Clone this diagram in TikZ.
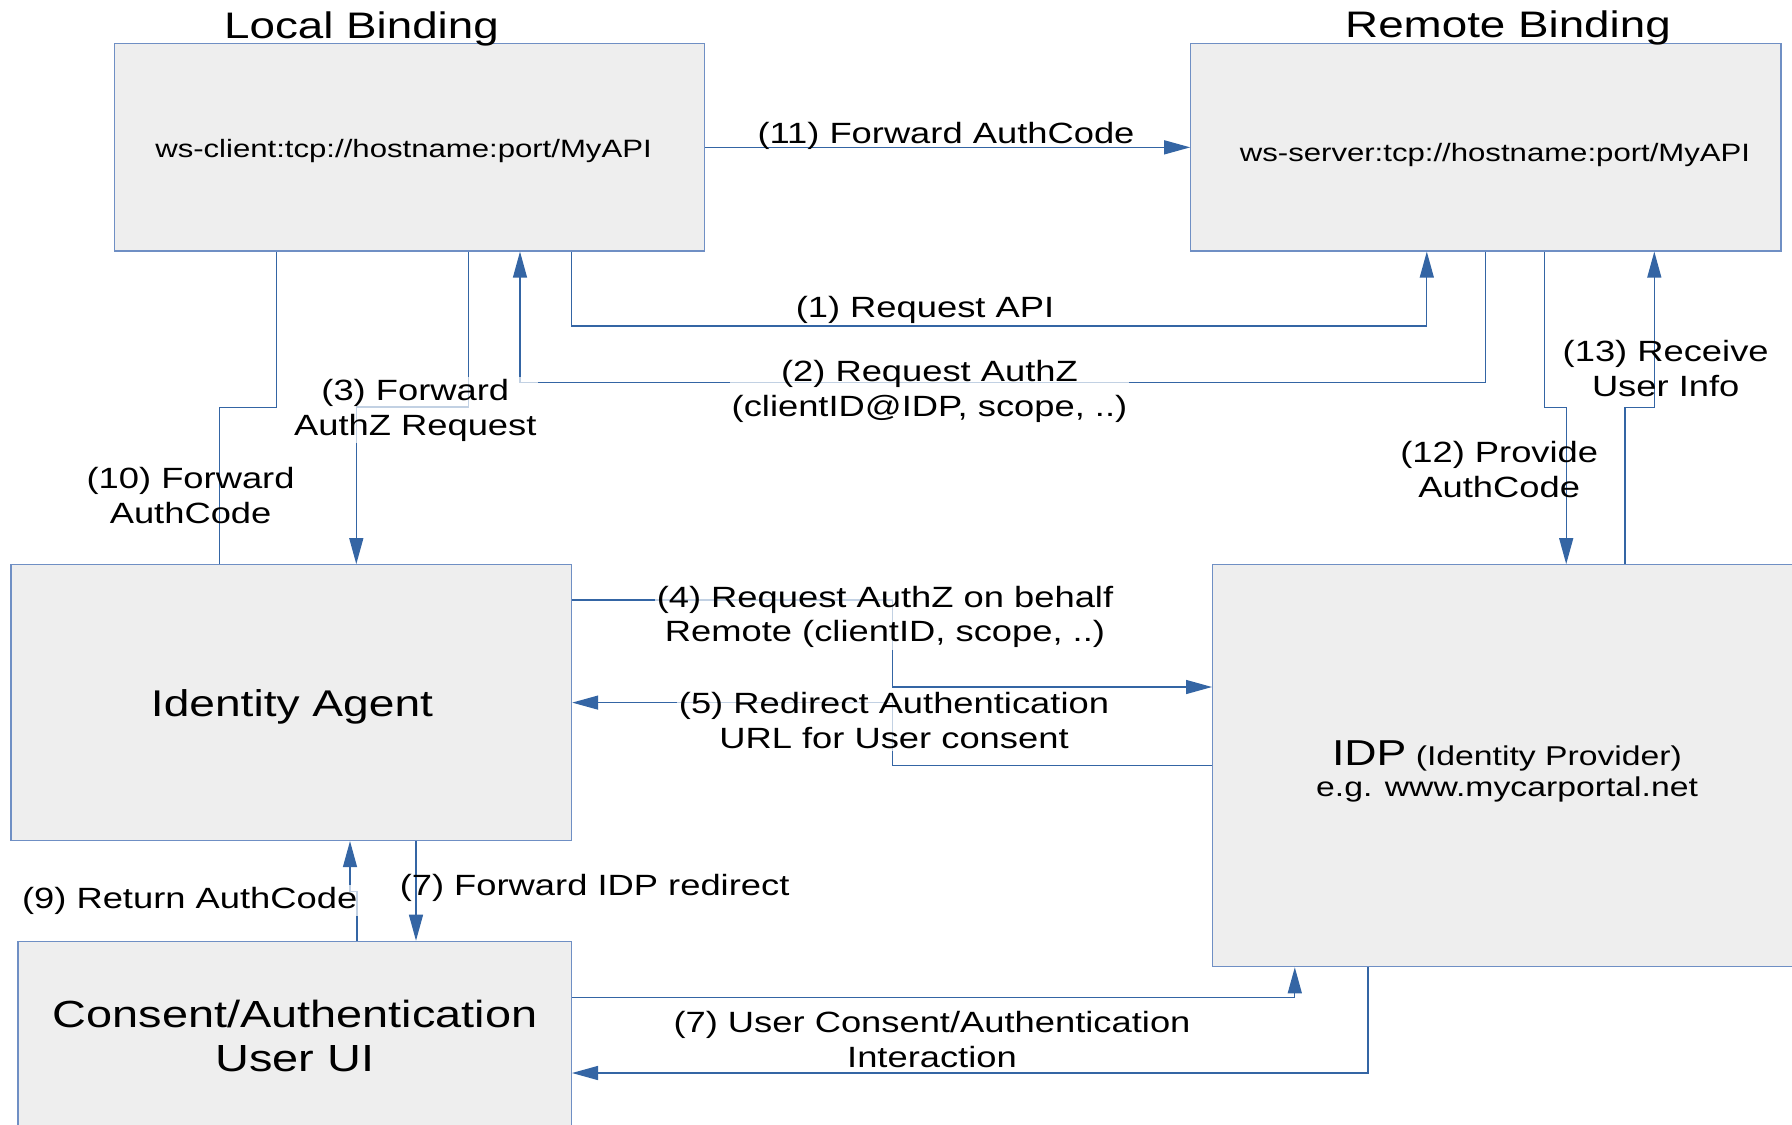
\documentclass[tikz,border=0pt]{standalone}
\usepackage{fontspec}
\setmainfont{Liberation Sans}[FakeStretch=1.24]
\usetikzlibrary{arrows.meta}
\definecolor{lnblue}{HTML}{3465A4}
\definecolor{bxborder}{HTML}{6F8FC4}
\definecolor{bxfill}{HTML}{EEEEEE}
\begin{document}
\begin{tikzpicture}[x=1pt,y=-1pt,
  box/.style={draw=bxborder, fill=bxfill, line width=1.2pt, inner sep=0pt},
  conn/.style={draw=lnblue, line width=1.3pt},
  arr/.style={conn, -{Triangle[length=26pt,width=14pt]}},
  lbl/.style={font=\fontsize{29.3}{34.7}\selectfont, align=center, anchor=base, inner sep=0pt},
  lblf/.style={lbl, fill=white, fill opacity=0.7, text opacity=1, inner sep=2pt},
  ttl/.style={font=\fontsize{36.9}{44}\selectfont, anchor=base, inner sep=0pt},
  btxt/.style={anchor=base, inner sep=0pt, align=center},
]
\useasboundingbox (0,0) rectangle (1792,1125);
\fill[white] (0,0) rectangle (1792,1125);
\clip (0,0) rectangle (1792,1125);

% boxes
\node[box, minimum width=589.6pt, minimum height=207.3pt] (LB) at (409.6,147.35) {};
\node[box, minimum width=590.2pt, minimum height=207.3pt] (RB) at (1485.9,147.35) {};
\node[box, minimum width=560.7pt, minimum height=275.8pt] (IA) at (291.25,702.6) {};
\node[box, minimum width=587.4pt, minimum height=402pt] (IDP) at (1506.3,765.7) {};
\node[box, minimum width=553.5pt, minimum height=193.7pt] (CA) at (294.65,1038.15) {};

% titles and box texts (multi-line nodes: base = last line)
\node[ttl] (tLB) at (361.5,38.3) {Local Binding};
\node[ttl] (tRB) at (1508,37.5) {Remote Binding};
\node[btxt, font=\fontsize{25.1}{30}\selectfont] (tws1) at (403.5,157.3) {ws-client:tcp://hostname:port/MyAPI};
\node[btxt, font=\fontsize{25.1}{30}\selectfont] (tws2) at (1495,161.8) {ws-server:tcp://hostname:port/MyAPI};
\node[btxt, font=\fontsize{37.2}{44}\selectfont] (tIA) at (292,716.7) {Identity Agent};
\node[btxt, font=\fontsize{27.2}{31}\selectfont] (tIDP) at (1507,796) {{\fontsize{36}{31}\selectfont IDP} (Identity Provider)\\e.g. www.mycarportal.net};
\node[btxt, font=\fontsize{37.8}{44}\selectfont] (tCA) at (295,1071.7) {Consent/Authentication\\User UI};

% connectors
% (11)
\draw[arr] (LB.east) -- (RB.west);
% (1)
\draw[arr] (571.6,0 |- LB.south) -- (571.6,326) -- (1426.8,326) -- (1426.8,0 |- RB.south);
% (2)
\draw[arr] (1485.5,0 |- RB.south) -- (1485.5,382.5) -- (520,382.5) -- (520,0 |- LB.south);
% (3)
\draw[arr] (468.5,0 |- LB.south) -- (468.5,407) -- (356.3,407) -- (356.3,0 |- IA.north);
% (10)
\draw[conn] (219.8,0 |- IA.north) -- (219.8,407.5) -- (276.7,407.5) -- (276.7,0 |- LB.south);
% (12)
\draw[arr] (1544.8,0 |- RB.south) -- (1544.8,407.3) -- (1566.2,407.3) -- (1566.2,0 |- IDP.north);
% (13)
\draw[arr] (1625,0 |- IDP.north) -- (1625,407.5) -- (1654.3,407.5) -- (1654.3,0 |- RB.south);
% (4)
\draw[arr] (IA.east |- 0,600) -- (892.8,600) -- (892.8,687) -- (IDP.west |- 0,687);
% (5)
\draw[arr] (IDP.west |- 0,765.5) -- (892.8,765.5) -- (892.8,702.6) -- (IA.east);
% (9)
\draw[arr] (357,0 |- CA.north) -- (357,891.5) -- (350,891.5) -- (350,0 |- IA.south);
% (7) forward IDP redirect
\draw[arr] (416,0 |- IA.south) -- (416,0 |- CA.north);
% (7) user consent
\draw[arr] (CA.east |- 0,997.7) -- (1294.8,997.7) -- (1294.8,0 |- IDP.south);
\draw[arr] (1368,0 |- IDP.south) -- (1368,1073) -- (CA.east |- 0,1073);

% labels
\node[lbl] (l11) at (946,143.3) {(11) Forward AuthCode};
\node[lbl] (l1) at (925,317) {(1) Request API};
\node[lblf] (l2) at (929.5,416) {(2) Request AuthZ\\(clientID@IDP, scope, ..)};
\node[lblf] (l3) at (415.3,435) {(3) Forward\\AuthZ Request};
\node[lbl] (l10) at (190.6,523.3) {(10) Forward\\AuthCode};
\node[lbl] (l12) at (1499.2,497.3) {(12) Provide\\AuthCode};
\node[lbl] (l13) at (1665.7,396) {(13) Receive\\User Info};
\node[lblf] (l4) at (885,641.7) {(4) Request AuthZ on behalf\\Remote (clientID, scope, ..)};
\node[lblf] (l5) at (894,748.3) {(5) Redirect Authentication\\URL for User consent};
\node[lblf] (l9) at (189.7,908.3) {(9) Return AuthCode};
\node[lbl] (l7a) at (594.6,895) {(7) Forward IDP redirect};
\node[lbl] (l7b) at (932,1067.3) {(7) User Consent/Authentication\\Interaction};
\end{tikzpicture}
\end{document}
